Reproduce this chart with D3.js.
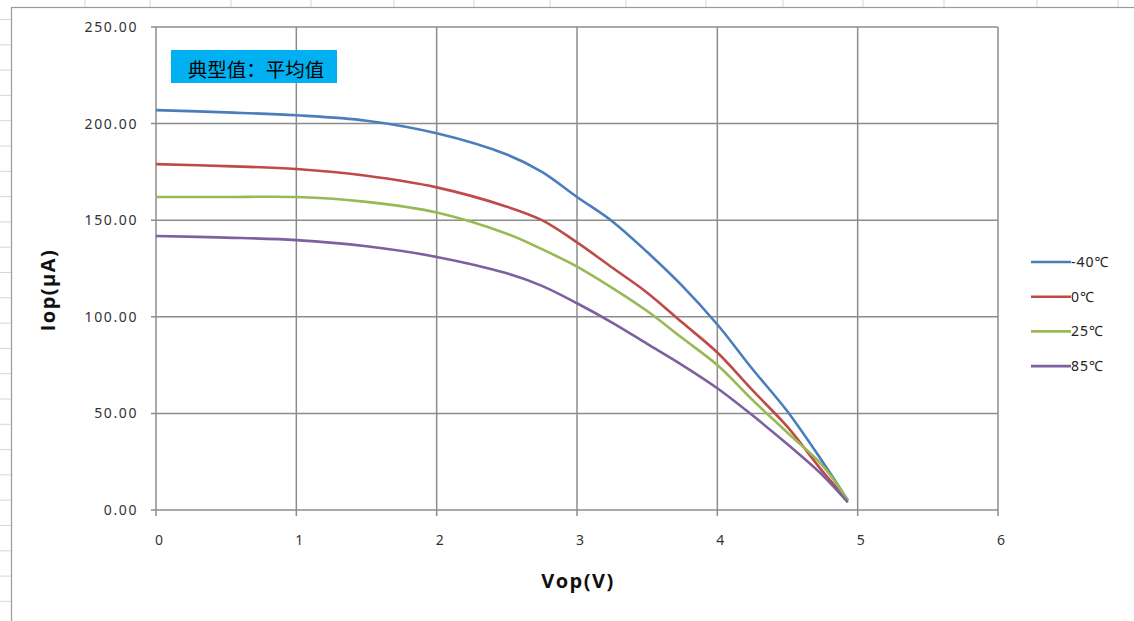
<!DOCTYPE html>
<html>
<head>
<meta charset="utf-8">
<script src="https://cdn.jsdelivr.net/npm/d3@7"></script>
<style>
  body { margin: 0; background: #fff; }
  svg { display: block; }
</style>
</head>
<body>
<div id="container"></div>
<script>
// chart data
var vop = [0, 0.5, 1, 1.5, 2, 2.5, 2.75, 3, 3.25, 3.5, 3.75, 4, 4.25, 4.5, 4.75, 4.93];
var iopM40 = [207, 205.8, 204.3, 201.5, 195, 184, 175, 162, 149.5, 133.5, 116, 96, 73, 51, 25, 5];
var iop0   = [179, 178, 176.5, 173, 167, 157, 150, 138.5, 125.5, 112.5, 97, 81.5, 62, 43, 20, 5];
var iop25  = [162, 162, 162, 159.5, 154, 143, 135, 126, 115, 103, 89, 75, 57, 40, 23, 5];
var iop85  = [141.8, 141, 139.7, 136.5, 131, 122.5, 116, 107, 97, 86, 75, 63, 49, 34, 18, 4];
var seriesNames = ["-40℃", "0℃", "25℃", "85℃"];
var seriesColors = ["#4A7EBB", "#BE4B48", "#98B954", "#7D60A0"];
var xTicks = [0, 1, 2, 3, 4, 5, 6];
var yTicks = [0, 50, 100, 150, 200, 250];

var w = 1134, h = 621;

var svg = d3.select("div#container")
  .append("svg")
  .attr("width", w)
  .attr("height", h);

// spreadsheet cells peeking out behind the chart
var sheetCols = [85, 150, 231, 311, 394, 474, 550, 626, 706, 783, 863, 944, 1037, 1118];
svg.append("g").selectAll("line")
  .data(sheetCols)
  .enter().append("line")
  .attr("x1", d => d).attr("x2", d => d)
  .attr("y1", 0).attr("y2", 7)
  .attr("stroke", "#D0D7E5").attr("stroke-width", 1);

svg.append("g").selectAll("line")
  .data(d3.range(0, 24))
  .enter().append("line")
  .attr("x1", 0).attr("x2", 11)
  .attr("y1", d => 19.5 + d * 25.3).attr("y2", d => 19.5 + d * 25.3)
  .attr("stroke", "#D0D7E5").attr("stroke-width", 1);

// chart area frame
svg.append("rect")
  .attr("x", 11.5).attr("y", 7.5)
  .attr("width", w + 10).attr("height", h + 10)
  .attr("fill", "#fff")
  .attr("stroke", "#9a9a9a").attr("stroke-width", 1.2);

var plot = { left: 156, right: 998, top: 27, bottom: 510 };

var x = d3.scaleLinear().domain([0, 6]).range([plot.left, plot.right]);
var y = d3.scaleLinear().domain([0, 250]).range([plot.bottom, plot.top]);

var grid = svg.append("g");
grid.selectAll("line.v")
  .data(xTicks)
  .enter().append("line")
  .attr("class", "v")
  .attr("x1", d => x(d)).attr("x2", d => x(d))
  .attr("y1", plot.top).attr("y2", plot.bottom + 6)
  .attr("stroke", "#8c8c8c").attr("stroke-width", 1.5);
grid.selectAll("line.h")
  .data(yTicks)
  .enter().append("line")
  .attr("class", "h")
  .attr("x1", plot.left - 5).attr("x2", plot.right)
  .attr("y1", d => y(d)).attr("y2", d => y(d))
  .attr("stroke", "#8c8c8c").attr("stroke-width", 1.5);

// tick labels
svg.append("g").selectAll("text")
  .data(yTicks)
  .enter().append("text")
  .attr("x", 138)
  .attr("y", d => y(d))
  .attr("dy", "0.35em")
  .attr("text-anchor", "end")
  .attr("font-family", "'Noto Sans', sans-serif")
  .attr("font-size", 14)
  .attr("letter-spacing", 1.6)
  .attr("fill", "#333")
  .text(d => d3.format(".2f")(d));

svg.append("g").selectAll("text")
  .data(xTicks)
  .enter().append("text")
  .attr("x", d => x(d) + 3)
  .attr("y", 545)
  .attr("text-anchor", "middle")
  .attr("font-family", "'Noto Sans', sans-serif")
  .attr("font-size", 14)
  .attr("fill", "#333")
  .text(d => d);

// axis titles
svg.append("text")
  .attr("x", 578).attr("y", 588)
  .attr("text-anchor", "middle")
  .attr("font-family", "'Open Sans', sans-serif")
  .attr("font-weight", "bold")
  .attr("font-size", 20)
  .attr("letter-spacing", 1.5)
  .attr("fill", "#111")
  .text("Vop(V)");

svg.append("text")
  .attr("transform", "translate(55,290) rotate(-90)")
  .attr("text-anchor", "middle")
  .attr("font-family", "'Open Sans', sans-serif")
  .attr("font-weight", "bold")
  .attr("font-size", 20)
  .attr("letter-spacing", 1.5)
  .attr("fill", "#111")
  .text("Iop(μA)");

// curves
var series = [iopM40, iop0, iop25, iop85];
var line = d3.line()
  .x((d, i) => x(vop[i]))
  .y(d => y(d))
  .curve(d3.curveCatmullRom.alpha(0.5));

svg.append("g").selectAll("path")
  .data(series)
  .enter().append("path")
  .attr("d", d => line(d))
  .attr("fill", "none")
  .attr("stroke", (d, i) => seriesColors[i])
  .attr("stroke-width", 2.6)
  .attr("stroke-linejoin", "round");

// note box
svg.append("rect")
  .attr("x", 171).attr("y", 50)
  .attr("width", 166).attr("height", 33)
  .attr("fill", "#00B0F0");
svg.append("text")
  .attr("x", 256).attr("y", 77)
  .attr("text-anchor", "middle")
  .attr("font-family", "'Noto Sans CJK SC', sans-serif")
  .attr("font-size", 19.5)
  .attr("fill", "#000")
  .text("典型值：平均值");

// legend
var legend = svg.append("g").selectAll("g")
  .data(seriesNames)
  .enter().append("g")
  .attr("transform", (d, i) => "translate(1031," + (262 + i * 34.7) + ")");
legend.append("line")
  .attr("x1", 0).attr("x2", 40)
  .attr("stroke", (d, i) => seriesColors[i])
  .attr("stroke-width", 2.6);
legend.append("text")
  .attr("x", 40).attr("dy", "0.35em")
  .attr("font-family", "'Noto Sans', sans-serif")
  .attr("font-size", 14)
  .attr("letter-spacing", 1)
  .attr("fill", "#222")
  .text(d => d);
</script>
</body>
</html>
